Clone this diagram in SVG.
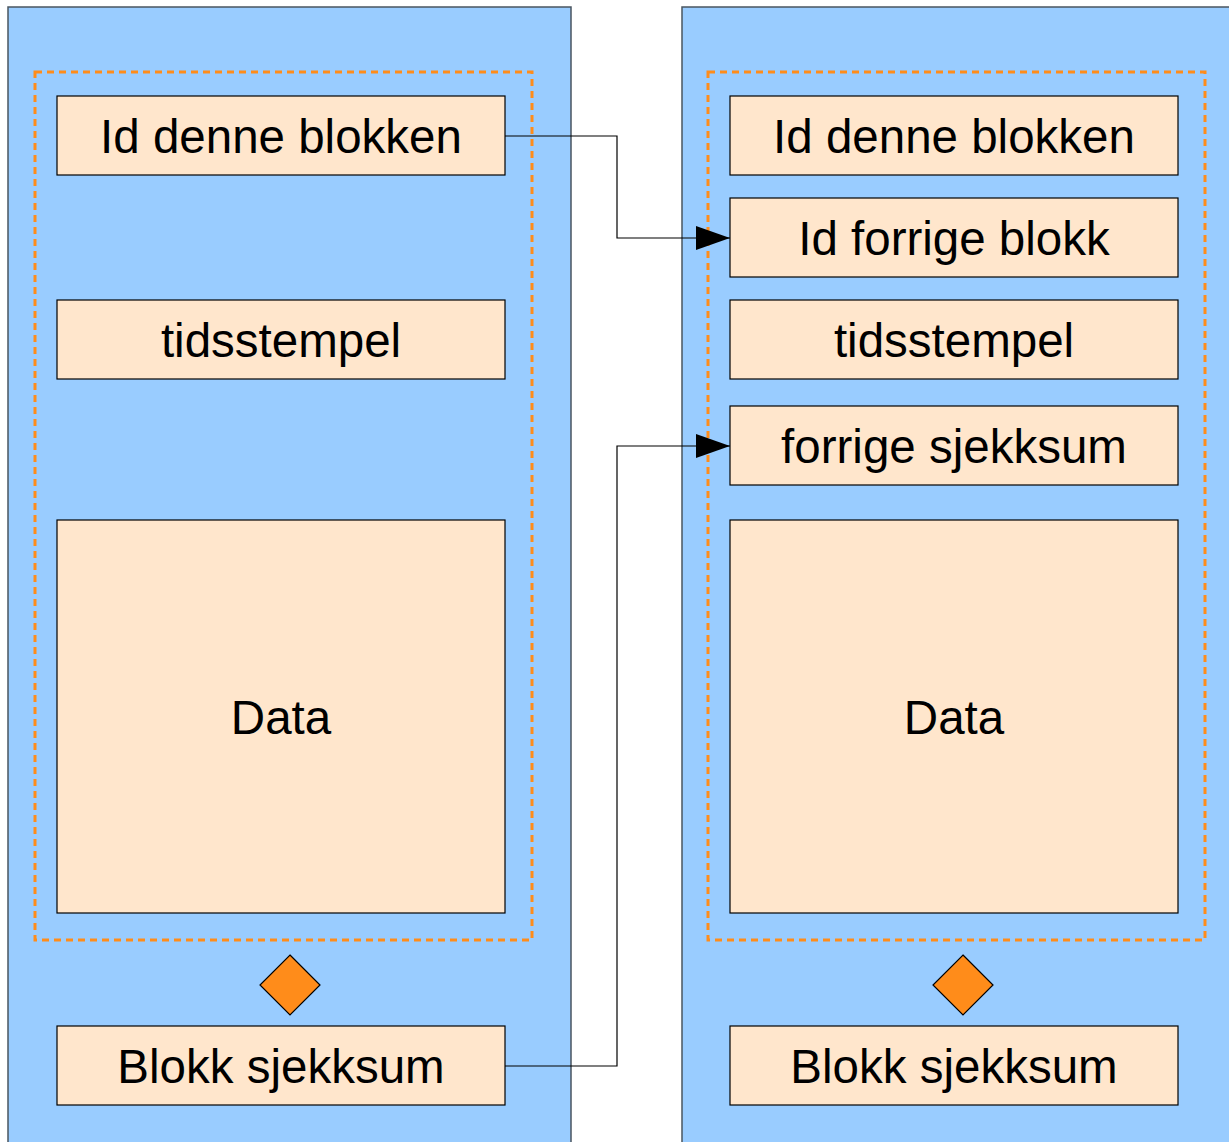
<svg xmlns="http://www.w3.org/2000/svg" width="1229" height="1142" viewBox="0 0 1229 1142">
<style>
.panel{fill:#99ccff;stroke:#4a5560;stroke-width:1.5}
.dash{fill:none;stroke:#ff8c1a;stroke-width:3;stroke-dasharray:7,5}
.box{fill:#ffe6cc;stroke:#000;stroke-width:1.2}
.dia{fill:#ff8c1a;stroke:#000;stroke-width:1.2}
.t{font-family:"Liberation Sans",Arial,sans-serif;font-size:47.5px;fill:#000;text-anchor:middle}
.c{fill:none;stroke:#000;stroke-width:1.2}
</style>
<defs>
<marker id="arr" markerUnits="userSpaceOnUse" markerWidth="36" markerHeight="24" refX="34" refY="12" orient="auto">
<path d="M0,0 L34,12 L0,24 Z" fill="#000"/>
</marker>
</defs>
<rect width="1229" height="1142" fill="#fff"/>
<g id="panel-left">
<rect class="panel" x="8" y="7" width="563" height="1145"/>
<rect class="dash" x="35" y="72" width="497" height="868"/>
</g>
<g id="panel-right">
<rect class="panel" x="682" y="7" width="560" height="1145"/>
<rect class="dash" x="708" y="72" width="497" height="868"/>
</g>
<g id="left-id"><rect class="box" x="57" y="96" width="448" height="79"/><text class="t" x="281" y="153">Id denne blokken</text></g>
<g id="left-tid"><rect class="box" x="57" y="300" width="448" height="79"/><text class="t" x="281" y="357">tidsstempel</text></g>
<g id="left-data"><rect class="box" x="57" y="520" width="448" height="393"/><text class="t" x="281" y="734">Data</text></g>
<g id="left-diamond"><path class="dia" d="M290,955 L320,985 L290,1015 L260,985 Z"/></g>
<g id="left-sum"><rect class="box" x="57" y="1026" width="448" height="79"/><text class="t" x="281" y="1083">Blokk sjekksum</text></g>
<g id="right-id"><rect class="box" x="730" y="96" width="448" height="79"/><text class="t" x="954" y="153">Id denne blokken</text></g>
<g id="right-prev"><rect class="box" x="730" y="198" width="448" height="79"/><text class="t" x="954" y="255">Id forrige blokk</text></g>
<g id="right-tid"><rect class="box" x="730" y="300" width="448" height="79"/><text class="t" x="954" y="357">tidsstempel</text></g>
<g id="right-prevsum"><rect class="box" x="730" y="406" width="448" height="79"/><text class="t" x="954" y="463">forrige sjekksum</text></g>
<g id="right-data"><rect class="box" x="730" y="520" width="448" height="393"/><text class="t" x="954" y="734">Data</text></g>
<g id="right-diamond"><path class="dia" d="M963,955 L993,985 L963,1015 L933,985 Z"/></g>
<g id="right-sum"><rect class="box" x="730" y="1026" width="448" height="79"/><text class="t" x="954" y="1083">Blokk sjekksum</text></g>
<g id="connectors">
<path class="c" d="M505,136 H617 V238 H730" marker-end="url(#arr)"/>
<path class="c" d="M505,1066 H617 V446 H730" marker-end="url(#arr)"/>
</g>
</svg>
